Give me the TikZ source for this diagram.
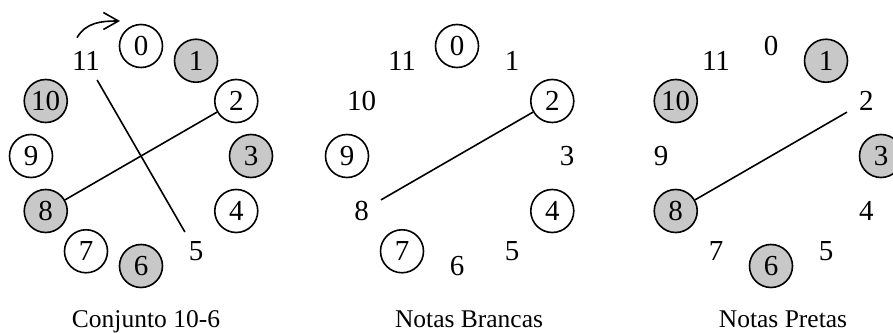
\documentclass[tikz,border=0pt]{standalone}
\usepackage{fontspec}
\setmainfont{Liberation Serif}
\usetikzlibrary{arrows.meta}

\definecolor{keygray}{RGB}{200,200,200}
\tikzset{
  pc/.style={circle, minimum size=43pt, inner sep=0pt, font=\fontsize{29}{29}\selectfont},
  pcw/.style={pc, draw},
  pcb/.style={pc, draw, fill=keygray},
  caption/.style={anchor=base, font=\fontsize{25.5}{25.5}\selectfont},
}

\begin{document}
\begin{tikzpicture}[x=1pt, y=1pt, line width=1.6pt]
  \useasboundingbox (0,0) rectangle (893,332);
  % centros dos tres relogios
  \coordinate (C1) at (141,176);
  \coordinate (C2) at (457,176);
  \coordinate (C3) at (771,176);

  % Conjunto 10-6
  \foreach \n in {0,2,4,7,9} {
    \node[pcw] (a\n) at ([shift={({90-30*\n}:110)}]C1) {\n};
  }
  \foreach \n in {1,3,6,8,10} {
    \node[pcb] (a\n) at ([shift={({90-30*\n}:110)}]C1) {\n};
  }
  \foreach \n in {5,11} {
    \node[pc] (a\n) at ([shift={({90-30*\n}:110)}]C1) {\n};
  }
  \draw (a11) -- (a5);
  \draw (a2) -- (a8);
  % sentido horario
  \coordinate (arrS) at ([shift={(-9,23)}]a11.center);
  \coordinate (arrE) at ([shift={(-21,25)}]a0.center);
  \draw[-{Straight Barb[length=15pt,width=17pt]}] (arrS) to[out=60,in=180] (arrE);
  \node[caption] (t1) at (146,5) {Conjunto 10-6};

  % Notas Brancas
  \foreach \n in {0,2,4,7,9} {
    \node[pcw] (b\n) at ([shift={({90-30*\n}:110)}]C2) {\n};
  }
  \foreach \n in {1,3,5,6,8,10,11} {
    \node[pc] (b\n) at ([shift={({90-30*\n}:110)}]C2) {\n};
  }
  \draw (b2) -- (b8);
  \node[caption] (t2) at (469,5) {Notas Brancas};

  % Notas Pretas
  \foreach \n in {1,3,6,8,10} {
    \node[pcb] (c\n) at ([shift={({90-30*\n}:110)}]C3) {\n};
  }
  \foreach \n in {0,2,4,5,7,9,11} {
    \node[pc] (c\n) at ([shift={({90-30*\n}:110)}]C3) {\n};
  }
  \draw (c2) -- (c8);
  \node[caption] (t3) at (783,5) {Notas Pretas};
\end{tikzpicture}
\end{document}
